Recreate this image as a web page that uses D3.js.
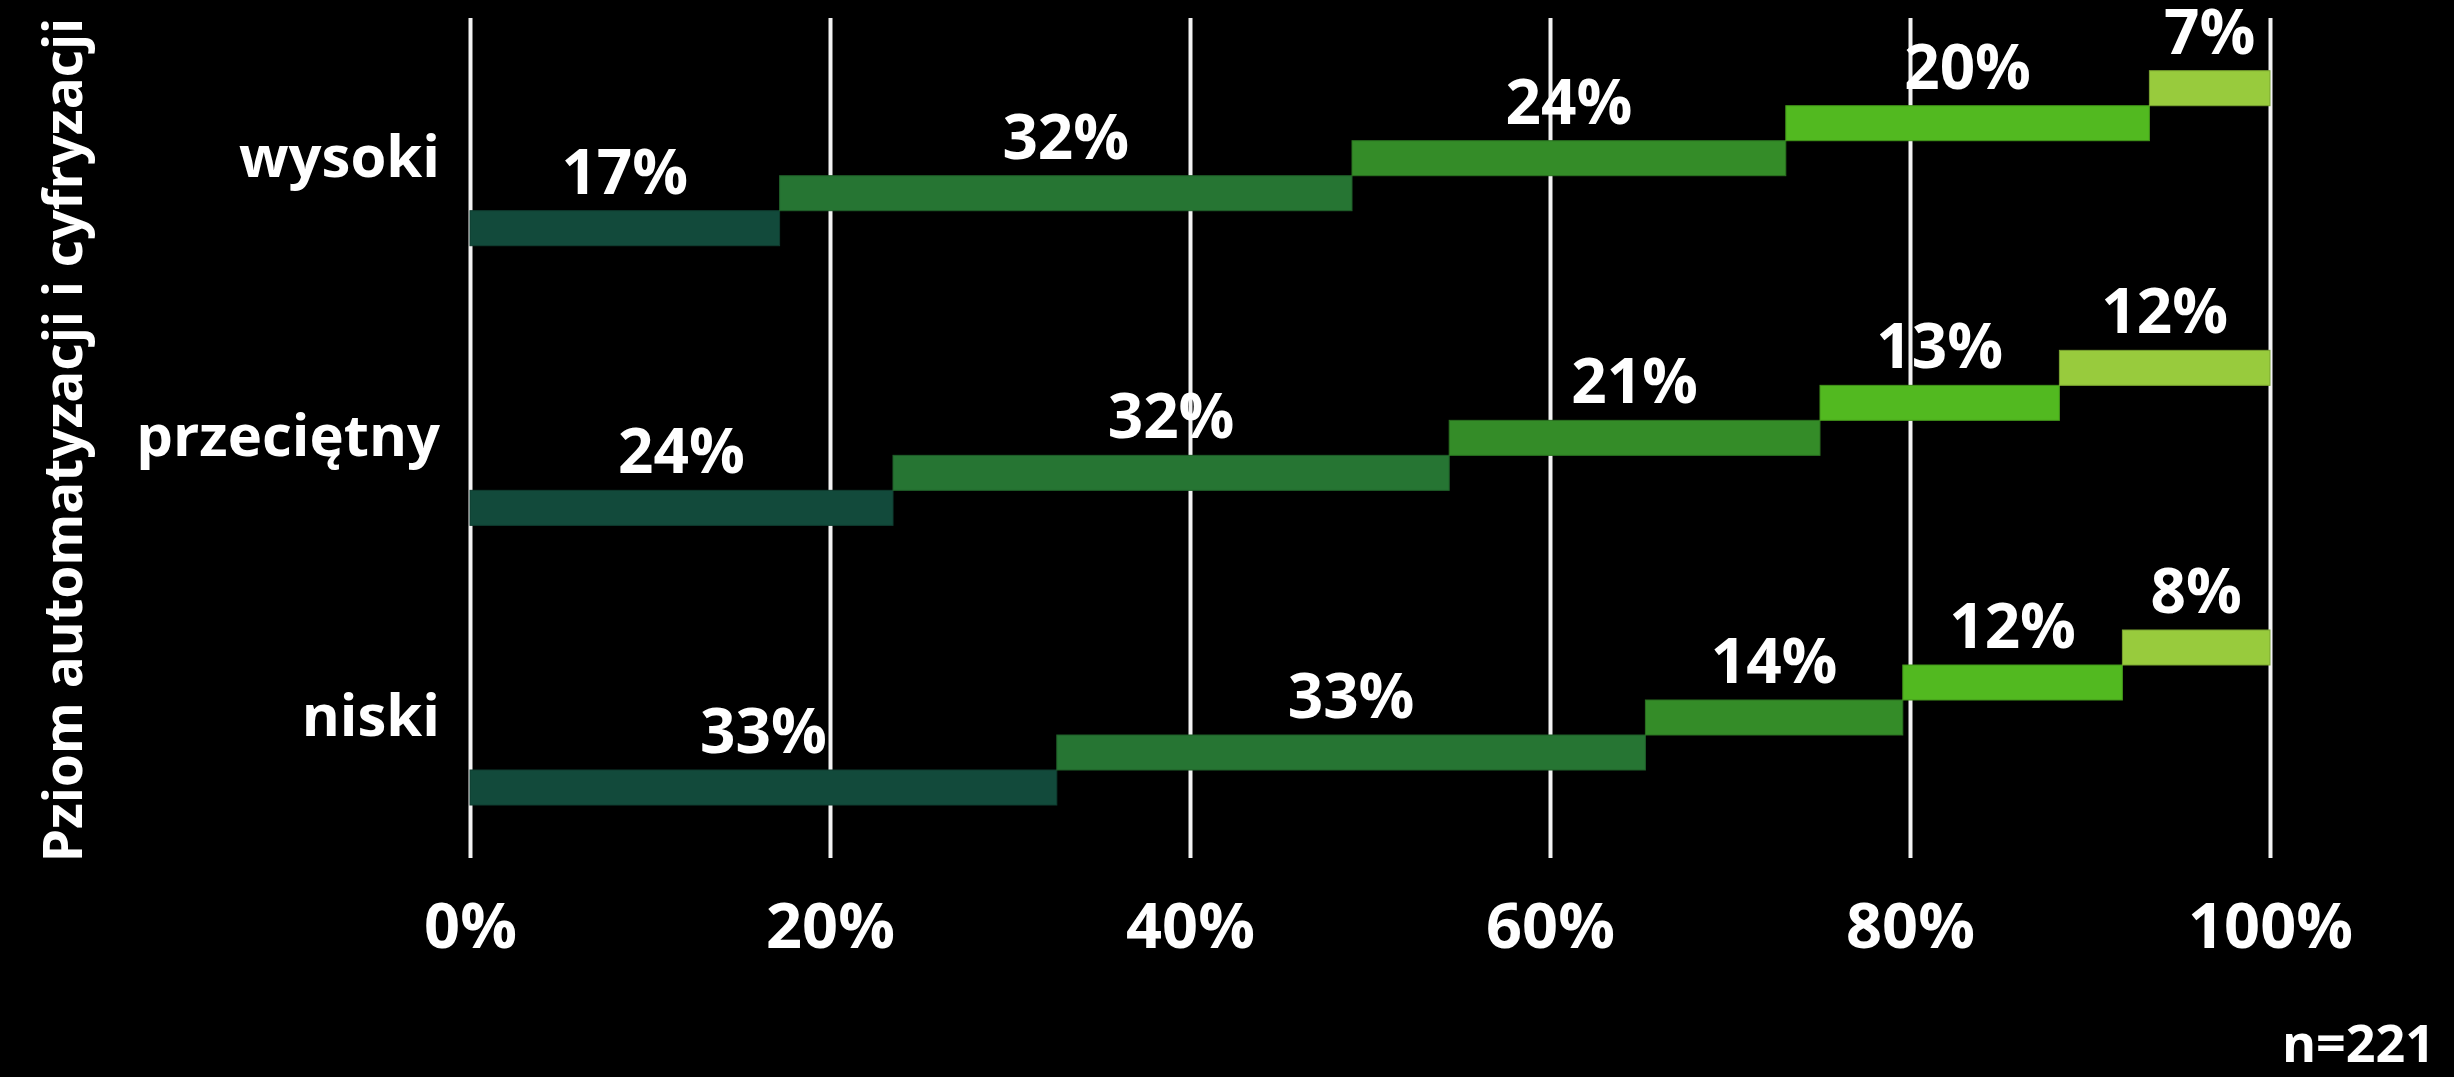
<!DOCTYPE html>
<html>
<head>
<meta charset="utf-8">
<script src="https://cdn.jsdelivr.net/npm/d3@7"></script>
<style>
  html, body { margin: 0; padding: 0; background: #000; }
  svg { display: block; }
  text { font-family: "Open Sans", sans-serif; font-weight: 700; fill: #fff; }
</style>
</head>
<body>
<div id="chart"></div>
<script>
// ---- data ----
const categories = ["wysoki", "przeciętny", "niski"];
const seriesKeys = ["s1", "s2", "s3", "s4", "s5"];
// bar lengths (share, %)
const s1 = [17.2, 23.5, 32.6];
const s2 = [31.8, 30.9, 32.7];
const s3 = [24.1, 20.6, 14.3];
const s4 = [20.2, 13.3, 12.2];
const s5 = [6.7, 11.7, 8.2];
// printed value labels
const s1Labels = ["17%", "24%", "33%"];
const s2Labels = ["32%", "32%", "33%"];
const s3Labels = ["24%", "21%", "14%"];
const s4Labels = ["20%", "13%", "12%"];
const s5Labels = ["7%", "12%", "8%"];
const seriesColors = ["#124a3b", "#267533", "#348c28", "#52b920", "#98cb3d"];
const tickValues = [0, 0.2, 0.4, 0.6, 0.8, 1];
const tickLabels = ["0%", "20%", "40%", "60%", "80%", "100%"];
const axisTitle = "Pziom automatyzacji i cyfryzacji";
const note = "n=221";

const seriesData = [s1, s2, s3, s4, s5];
const seriesLabels = [s1Labels, s2Labels, s3Labels, s4Labels, s5Labels];
const rows = categories.map((c, i) => {
  const r = { category: c, index: i };
  seriesKeys.forEach((k, j) => { r[k] = seriesData[j][i]; });
  return r;
});

// ---- layout ----
const W = 2454, H = 1077;
const gridTop = 18, gridBottom = 858;
const barH = 35;

const svg = d3.select("#chart").append("svg")
  .attr("width", W).attr("height", H);
svg.append("rect").attr("width", W).attr("height", H).attr("fill", "#000");

const x = d3.scaleLinear().domain([0, 1]).range([470, 2270]);
// y position of the bottom edge of each category's first segment
const yBase = d3.scalePoint().domain(categories).range([245.7, 805]);

// grid / axis
const axis = d3.axisBottom(x)
  .tickValues(tickValues)
  .tickFormat((d, i) => tickLabels[i])
  .tickSizeInner(-(gridBottom - gridTop))
  .tickSizeOuter(0)
  .tickPadding(45);
const gAxis = svg.append("g")
  .attr("transform", `translate(0,${gridBottom})`)
  .call(axis);
gAxis.select(".domain").remove();
gAxis.selectAll(".tick line").attr("stroke", "#f2f2f2").attr("stroke-width", 4);
gAxis.selectAll(".tick text")
  .attr("font-size", 63)
  .attr("fill", "#fff")
  .style("font-family", "'Open Sans', sans-serif")
  .style("font-weight", 700);

// stacked (normalized) bars
const stack = d3.stack().keys(seriesKeys).offset(d3.stackOffsetExpand);
const stacked = stack(rows);

const gBars = svg.append("g");
stacked.forEach((layer, si) => {
  const g = gBars.append("g");
  g.selectAll("rect").data(layer).enter().append("rect")
    .attr("x", d => x(d[0]))
    .attr("width", d => x(d[1]) - x(d[0]))
    .attr("y", d => yBase(d.data.category) - (si + 1) * barH)
    .attr("height", barH)
    .attr("fill", seriesColors[si])
    .attr("stroke", d3.color(seriesColors[si]).darker(0.6))
    .attr("stroke-width", 1);
  g.selectAll("text").data(layer).enter().append("text")
    .attr("x", d => (x(d[0]) + x(d[1])) / 2)
    .attr("y", d => yBase(d.data.category) - (si + 1) * barH - 17)
    .attr("text-anchor", "middle")
    .attr("font-size", 62)
    .text(d => seriesLabels[si][d.data.index]);
});

// category labels
svg.append("g").selectAll("text").data(categories).enter().append("text")
  .attr("x", 440)
  .attr("y", d => yBase(d) - 69)
  .attr("text-anchor", "end")
  .attr("font-size", 58)
  .text(d => d);

// axis title
svg.append("text")
  .attr("transform", `translate(82,440) rotate(-90)`)
  .attr("text-anchor", "middle")
  .attr("font-size", 53)
  .text(axisTitle);

// note
svg.append("text")
  .attr("x", 2435).attr("y", 1062)
  .attr("text-anchor", "end")
  .attr("font-size", 52)
  .text(note);
</script>
</body>
</html>
